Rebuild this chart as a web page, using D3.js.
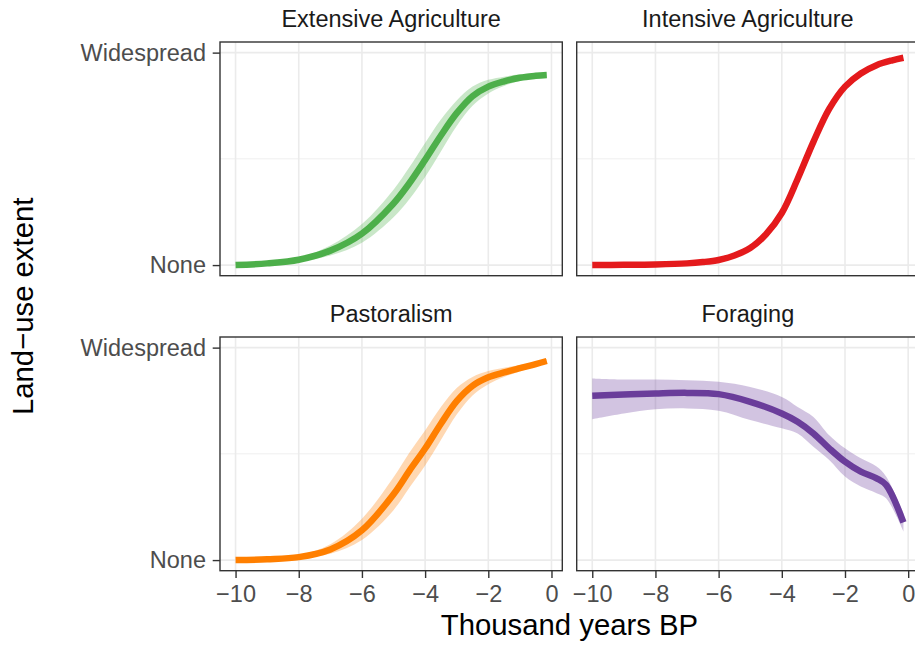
<!DOCTYPE html>
<html>
<head>
<meta charset="utf-8">
<script src="https://cdn.jsdelivr.net/npm/d3@7"></script>
<style>
  body { margin: 0; background: #fff; }
  svg { display: block; font-family: "Liberation Sans", Arial, sans-serif; }
</style>
</head>
<body>
<div id="chart"></div>
<script>
// data (thousand years BP, 0 = None, 1 = Widespread)
const years = [-10, -9, -8, -7, -6, -5, -4.5, -4, -3.5, -3, -2.5, -2, -1.5, -1, -0.5, -0.15];

const extensiveMid = [0, 0.008, 0.025, 0.068, 0.148, 0.29, 0.385, 0.495, 0.61, 0.715, 0.795, 0.84, 0.865, 0.882, 0.891, 0.895];
const extensiveLo  = [0, 0.004, 0.016, 0.045, 0.105, 0.225, 0.31, 0.415, 0.535, 0.655, 0.75, 0.808, 0.843, 0.866, 0.878, 0.882];
const extensiveHi  = [0.003, 0.013, 0.035, 0.092, 0.193, 0.355, 0.46, 0.575, 0.685, 0.775, 0.84, 0.872, 0.887, 0.898, 0.904, 0.908];

const intensiveYears = [-10, -9, -8, -7, -6.5, -6, -5.5, -5, -4.5, -4, -3.5, -3, -2.5, -2, -1.5, -1, -0.5, -0.15];
const intensiveMid = [0, 0.001, 0.003, 0.008, 0.014, 0.024, 0.045, 0.08, 0.145, 0.245, 0.405, 0.58, 0.735, 0.84, 0.902, 0.941, 0.964, 0.976];

const pastoralMid = [0, 0.004, 0.014, 0.05, 0.14, 0.31, 0.42, 0.525, 0.642, 0.748, 0.82, 0.86, 0.883, 0.903, 0.922, 0.937];
const pastoralLo  = [0, 0.002, 0.01, 0.03, 0.095, 0.235, 0.34, 0.445, 0.565, 0.685, 0.775, 0.828, 0.862, 0.888, 0.91, 0.927];
const pastoralHi  = [0.002, 0.007, 0.022, 0.075, 0.195, 0.39, 0.505, 0.61, 0.72, 0.81, 0.862, 0.89, 0.905, 0.918, 0.934, 0.947];

const foragingYears = [-10, -9, -8, -7, -6, -5, -4, -3.5, -3, -2.5, -2, -1.5, -1, -0.7, -0.15];
const foragingMid = [0.773, 0.779, 0.784, 0.787, 0.781, 0.745, 0.69, 0.651, 0.596, 0.526, 0.463, 0.416, 0.385, 0.354, 0.177];
const foragingLo  = [0.663, 0.69, 0.71, 0.714, 0.703, 0.659, 0.62, 0.596, 0.533, 0.471, 0.393, 0.346, 0.315, 0.291, 0.135];
const foragingHi  = [0.855, 0.85, 0.85, 0.847, 0.839, 0.815, 0.768, 0.721, 0.674, 0.588, 0.526, 0.479, 0.44, 0.393, 0.221];

const xTicks = [-10, -8, -6, -4, -2, 0];
const yTicks = [0, 1];
const yLabels = ["None", "Widespread"];

const panels = [
  {title: "Extensive Agriculture", x: years, mid: extensiveMid, lo: extensiveLo, hi: extensiveHi, color: "#4DAF4A", col: 0, row: 0},
  {title: "Intensive Agriculture", x: intensiveYears, mid: intensiveMid, lo: null, hi: null, color: "#E41A1C", col: 1, row: 0},
  {title: "Pastoralism", x: years, mid: pastoralMid, lo: pastoralLo, hi: pastoralHi, color: "#FF7F00", col: 0, row: 1},
  {title: "Foraging", x: foragingYears, mid: foragingMid, lo: foragingLo, hi: foragingHi, color: "#6A3D9A", col: 1, row: 1}
];

const width = 915;
const height = 646;
const panelW = 342.3;
const panelH = 233.7;
const panelLeft = [220, 576.7];
const panelTop = [42, 337];
const tickLen = 7.3;

const svg = d3.select("#chart")
    .append("svg")
    .attr("width", width)
    .attr("height", height);

// x range of the data, expanded 5% each side like ggplot
const xMin = -10, xMax = -0.15;
const pad = (xMax - xMin) * 0.05;

panels.forEach((p, i) => {
    const left = panelLeft[p.col];
    const top = panelTop[p.row];

    const x = d3.scaleLinear().domain([xMin - pad, xMax + pad]).range([left, left + panelW]);
    const y = d3.scaleLinear().domain([-0.05, 1.05]).range([top + panelH, top]);

    svg.append("clipPath")
        .attr("id", "clip" + i)
        .append("rect")
        .attr("x", left).attr("y", top)
        .attr("width", panelW).attr("height", panelH);

    const g = svg.append("g");

    // grid
    g.append("line")
        .attr("x1", left).attr("x2", left + panelW)
        .attr("y1", y(0.5)).attr("y2", y(0.5))
        .attr("stroke", "#EBEBEB").attr("stroke-width", 0.8);

    g.selectAll(".gy")
        .data(yTicks)
        .enter().append("line")
        .attr("x1", left).attr("x2", left + panelW)
        .attr("y1", d => y(d)).attr("y2", d => y(d))
        .attr("stroke", "#EBEBEB").attr("stroke-width", 1.6);

    g.selectAll(".gx")
        .data(xTicks)
        .enter().append("line")
        .attr("x1", d => x(d)).attr("x2", d => x(d))
        .attr("y1", top).attr("y2", top + panelH)
        .attr("stroke", "#EBEBEB").attr("stroke-width", 1.6);

    const pts = p.x.map((t, k) => ({t: t, mid: p.mid[k], lo: p.lo ? p.lo[k] : null, hi: p.hi ? p.hi[k] : null}));

    const data = g.append("g").attr("clip-path", `url(#clip${i})`);

    if (p.lo) {
        const area = d3.area()
            .x(d => x(d.t))
            .y0(d => y(d.lo))
            .y1(d => y(d.hi))
            .curve(d3.curveCatmullRom.alpha(0.5));
        data.append("path")
            .datum(pts)
            .attr("d", area)
            .attr("fill", p.color)
            .attr("fill-opacity", 0.3);
    }

    const line = d3.line()
        .x(d => x(d.t))
        .y(d => y(d.mid))
        .curve(d3.curveCatmullRom.alpha(0.5));
    data.append("path")
        .datum(pts)
        .attr("d", line)
        .attr("fill", "none")
        .attr("stroke", p.color)
        .attr("stroke-width", 6.5);

    // border
    g.append("rect")
        .attr("x", left).attr("y", top)
        .attr("width", panelW).attr("height", panelH)
        .attr("fill", "none")
        .attr("stroke", "#333333")
        .attr("stroke-width", 1.4);

    // strip title
    svg.append("text")
        .attr("x", left + panelW / 2)
        .attr("y", top - 15.5)
        .attr("text-anchor", "middle")
        .attr("fill", "#1A1A1A")
        .style("font-size", "23.5px")
        .text(p.title);

    if (p.col === 0) {
        const ax = svg.append("g")
            .attr("transform", `translate(${left},0)`)
            .call(d3.axisLeft(y).tickValues(yTicks).tickFormat((d, k) => yLabels[k]).tickSize(tickLen).tickPadding(6.7));
        ax.select(".domain").remove();
        ax.selectAll("line").attr("stroke", "#333333").attr("stroke-width", 1.4);
        ax.selectAll("text").attr("fill", "#4D4D4D").style("font-size", "23.5px")
            .style("font-family", "'Liberation Sans', Arial, sans-serif");
    }

    if (p.row === 1) {
        const ax = svg.append("g")
            .attr("transform", `translate(0,${top + panelH})`)
            .call(d3.axisBottom(x).tickValues(xTicks).tickSize(tickLen).tickPadding(7.8));
        ax.select(".domain").remove();
        ax.selectAll("line").attr("stroke", "#333333").attr("stroke-width", 1.4);
        ax.selectAll("text").attr("fill", "#4D4D4D").style("font-size", "23.5px")
            .style("font-family", "'Liberation Sans', Arial, sans-serif");
    }
});

// axis titles
svg.append("text")
    .attr("x", (panelLeft[0] + panelLeft[1] + panelW) / 2)
    .attr("y", 635)
    .attr("text-anchor", "middle")
    .attr("fill", "#000")
    .style("font-size", "29.3px")
    .text("Thousand years BP");

svg.append("text")
    .attr("transform", `translate(33.3,${(panelTop[0] + panelTop[1] + panelH) / 2}) rotate(-90)`)
    .attr("text-anchor", "middle")
    .attr("fill", "#000")
    .style("font-size", "29.3px")
    .text("Land\u2212use extent");
</script>
</body>
</html>
